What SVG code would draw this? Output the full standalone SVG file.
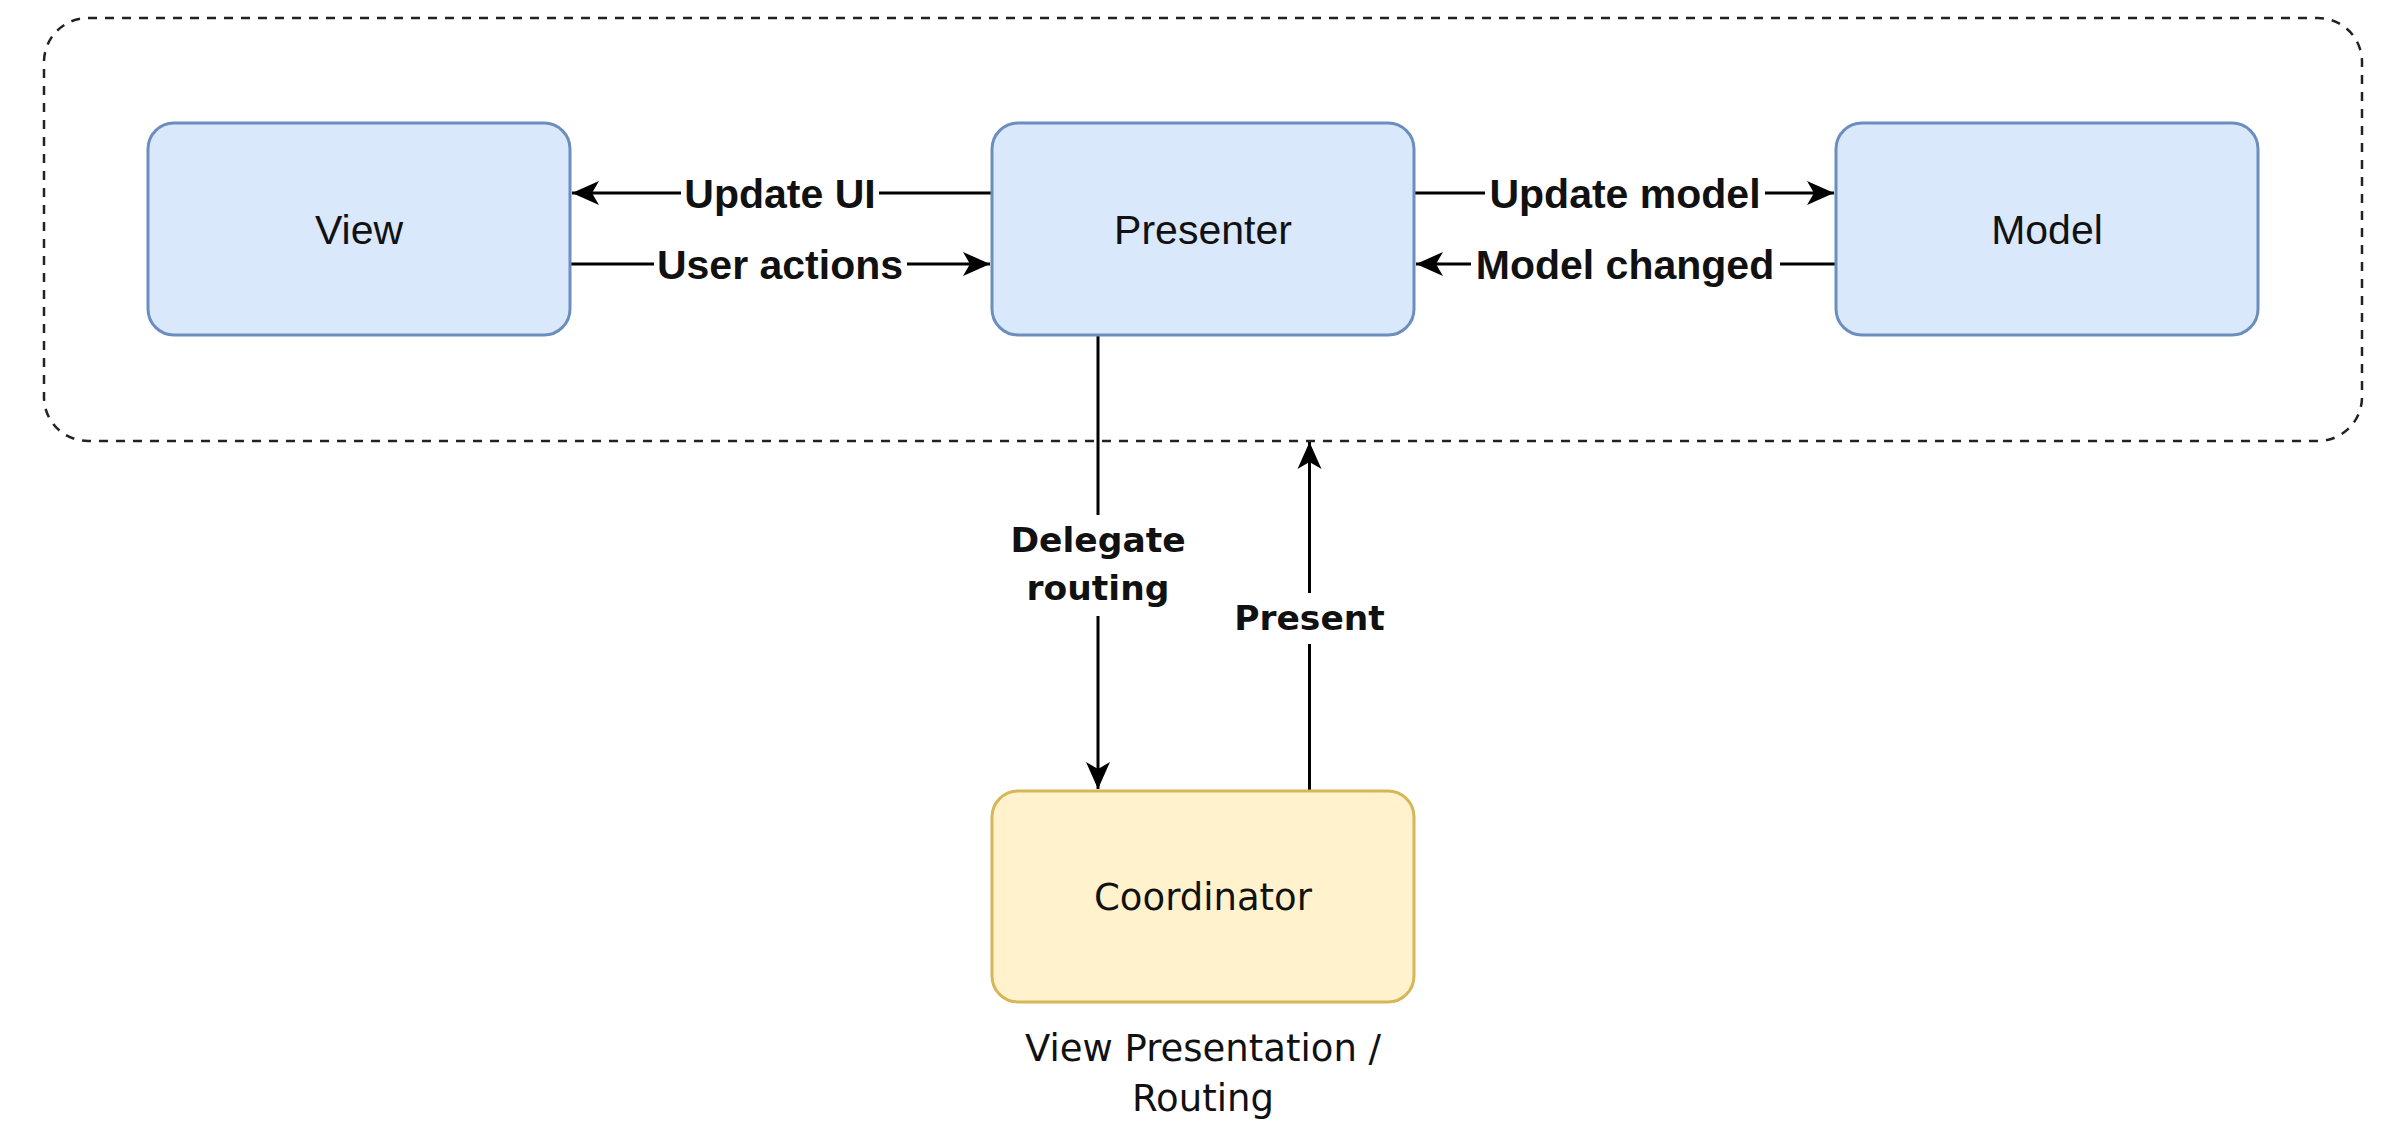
<svg xmlns="http://www.w3.org/2000/svg" width="2387" height="1121" viewBox="0 0 2387 1121">
<style>
.blue{fill:#dae8fc;stroke:#6c8ebf;stroke-width:3}
.yellow{fill:#fff2cc;stroke:#d6b656;stroke-width:3}
.frame{fill:none;stroke:#222;stroke-width:2.5;stroke-dasharray:9 8}
.edge{fill:none;stroke:#000;stroke-width:3;marker-end:url(#arr)}
.nl{font-family:"Liberation Sans",Arial,sans-serif;font-size:41px;fill:#111;text-anchor:middle}
.el{font-family:"Liberation Sans",Arial,sans-serif;font-size:41px;font-weight:bold;fill:#111;text-anchor:middle}
.dl{font-family:"DejaVu Sans",Verdana,sans-serif;font-size:37px;fill:#111;text-anchor:middle}
.db{font-family:"DejaVu Sans",Verdana,sans-serif;font-size:34.5px;font-weight:bold;fill:#111;text-anchor:middle}
.bg{fill:#fff}
</style>
<defs>
<marker id="arr" markerUnits="userSpaceOnUse" viewBox="-28 -14 30 28" refX="0" refY="0" markerWidth="30" markerHeight="28" orient="auto">
<path d="M0,0 L-27,-12 L-20,0 L-27,12 Z" fill="#000"/>
</marker>
</defs>
<rect width="2387" height="1121" fill="#fff"/>
<g id="container">
<rect class="frame" x="44" y="18" width="2318" height="423" rx="44" ry="44"/>
</g>
<g id="connectors">
<line class="edge" x1="992" y1="193" x2="572" y2="193"/>
<line class="edge" x1="570" y1="264" x2="990" y2="264"/>
<line class="edge" x1="1414" y1="193" x2="1834" y2="193"/>
<line class="edge" x1="1836" y1="264" x2="1416" y2="264"/>
<line class="edge" x1="1098" y1="335" x2="1098" y2="789"/>
<line class="edge" x1="1309.5" y1="791" x2="1309.5" y2="442"/>
<rect class="bg" x="681" y="170" width="198" height="46"/>
<text class="el" x="780" y="208">Update UI</text>
<rect class="bg" x="654" y="241" width="253" height="46"/>
<text class="el" x="780" y="279">User actions</text>
<rect class="bg" x="1485" y="170" width="280" height="46"/>
<text class="el" x="1625" y="208">Update model</text>
<rect class="bg" x="1471" y="241" width="309" height="46"/>
<text class="el" x="1625" y="279">Model changed</text>
<rect class="bg" x="1008" y="515" width="180" height="101"/>
<text class="db" x="1098" y="552">Delegate</text>
<text class="db" x="1098" y="600">routing</text>
<rect class="bg" x="1230" y="593" width="160" height="51"/>
<text class="db" x="1309.5" y="630">Present</text>
</g>
<g id="view">
<rect class="blue" x="148" y="123" width="422" height="212" rx="26" ry="26"/>
<text class="nl" x="359" y="244">View</text>
</g>
<g id="presenter">
<rect class="blue" x="992" y="123" width="422" height="212" rx="26" ry="26"/>
<text class="nl" x="1203" y="244">Presenter</text>
</g>
<g id="model">
<rect class="blue" x="1836" y="123" width="422" height="212" rx="26" ry="26"/>
<text class="nl" x="2047" y="244">Model</text>
</g>
<g id="coordinator">
<rect class="yellow" x="992" y="791" width="422" height="211" rx="26" ry="26"/>
<text class="dl" x="1203" y="910">Coordinator</text>
<text class="dl" x="1203" y="1061">View Presentation /</text>
<text class="dl" x="1203" y="1111">Routing</text>
</g>
</svg>
